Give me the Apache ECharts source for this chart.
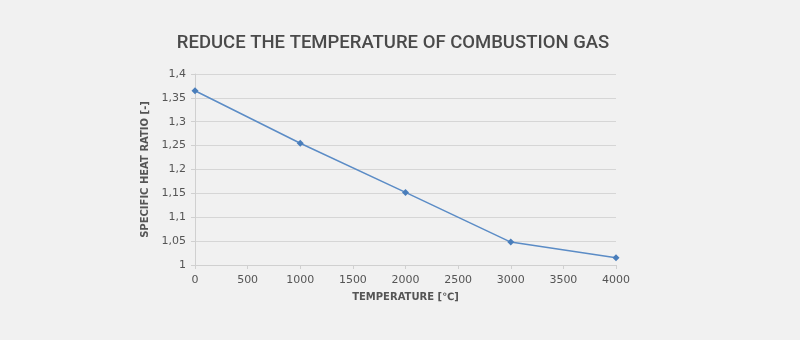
<!DOCTYPE html>
<html><head><meta charset="utf-8">
<script src="https://cdn.jsdelivr.net/npm/echarts@6/dist/echarts.min.js"></script>
<style>html,body{margin:0;padding:0;background:#f1f1f1;}#c{width:800px;height:340px;}</style>
</head><body><div id="c"></div>
<script>
var temperatures = [0, 1000, 2000, 3000, 4000];
var heatRatio = [1.365, 1.255, 1.152, 1.048, 1.015];
var titleText = 'REDUCE THE TEMPERATURE OF COMBUSTION GAS';
var xName = 'TEMPERATURE [\u2103]';
var yName = 'SPECIFIC HEAT RATIO [-]';

var chart = echarts.init(document.getElementById('c'));
var labelColor = '#555555';
chart.setOption({
  backgroundColor: '#f1f1f1',
  animation: false,
  title: {
    text: titleText, left: 388, top: 29, textAlign: 'center',
    textStyle: {fontFamily: 'Roboto', fontWeight: 500, fontSize: 18.5, color: '#4a4a4a'}
  },
  grid: {left: 195, right: 184, top: 74, bottom: 75},
  xAxis: {
    type: 'value', min: 0, max: 4000, interval: 500,
    name: xName, nameLocation: 'middle', nameGap: 27,
    nameTextStyle: {fontFamily: 'DejaVu Sans', fontWeight: 'bold', fontSize: 10, color: labelColor},
    axisLine: {show: true, lineStyle: {color: '#d0d0d0'}},
    axisTick: {show: true, length: 4, lineStyle: {color: '#d0d0d0'}},
    axisLabel: {fontFamily: 'DejaVu Sans', fontSize: 11, color: labelColor, margin: 10,
      formatter: function (v) { return String(v); }},
    splitLine: {show: false}
  },
  yAxis: {
    type: 'value', min: 1, max: 1.4, interval: 0.05,
    name: yName, nameLocation: 'middle', nameGap: 38, nameRotate: 90,
    nameTextStyle: {fontFamily: 'DejaVu Sans', fontWeight: 'bold', fontSize: 10, color: labelColor},
    axisLine: {show: true, lineStyle: {color: '#d0d0d0'}},
    axisTick: {show: true, length: 4, lineStyle: {color: '#d0d0d0'}},
    axisLabel: {fontFamily: 'DejaVu Sans', fontSize: 11, color: labelColor, margin: 9,
      formatter: function (v) { return String(parseFloat(v.toFixed(2))).replace('.', ','); }},
    splitLine: {show: true, lineStyle: {color: '#d6d6d6'}}
  },
  series: [{
    type: 'line',
    data: temperatures.map(function (t, i) { return [t, heatRatio[i]]; }),
    symbol: 'diamond', symbolSize: 7,
    lineStyle: {color: '#5b8cc6', width: 1.5},
    itemStyle: {color: '#4a7ebb'}
  }]
});
</script></body></html>
